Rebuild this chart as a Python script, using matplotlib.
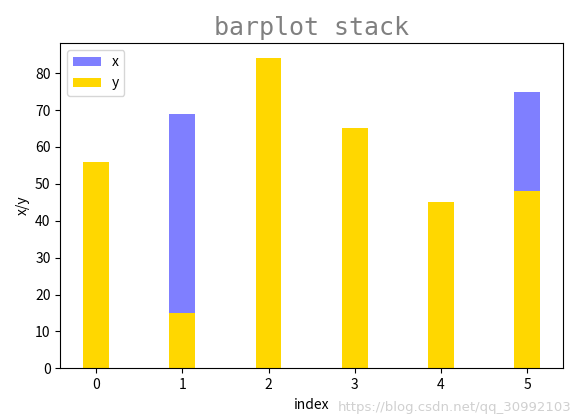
import numpy as np
import matplotlib.pyplot as plt

plt.rcParams['font.family'] = ['Noto Sans CJK SC', 'DejaVu Sans']

index = np.arange(6)
x = [30, 69, 40, 50, 20, 75]
y = [56, 15, 84, 65, 45, 48]
bar_width = 0.3

fig = plt.figure(figsize=(5.74, 4.2), dpi=100)
ax = fig.add_axes([0.105, 0.123, 0.876, 0.775])

ax.bar(index, x, bar_width, color='blue', alpha=0.5, label='x')
ax.bar(index, y, bar_width, color='gold', label='y')

ax.set_title('barplot stack', fontsize=18, color='gray', family='DejaVu Sans Mono')
ax.set_xlabel('index', fontsize=10)
ax.set_ylabel('x/y', fontsize=10)
ax.set_xticks(index)
ax.tick_params(labelsize=10)
ax.legend(loc='upper left')

# watermark
fig.text(0.588, 0.03, 'https://blog.csdn.net/qq_30992103', ha='left', va='center',
         fontsize=9.5, color='#d0d0d0', family='DejaVu Sans')

fig.savefig('out.png', dpi=100)
